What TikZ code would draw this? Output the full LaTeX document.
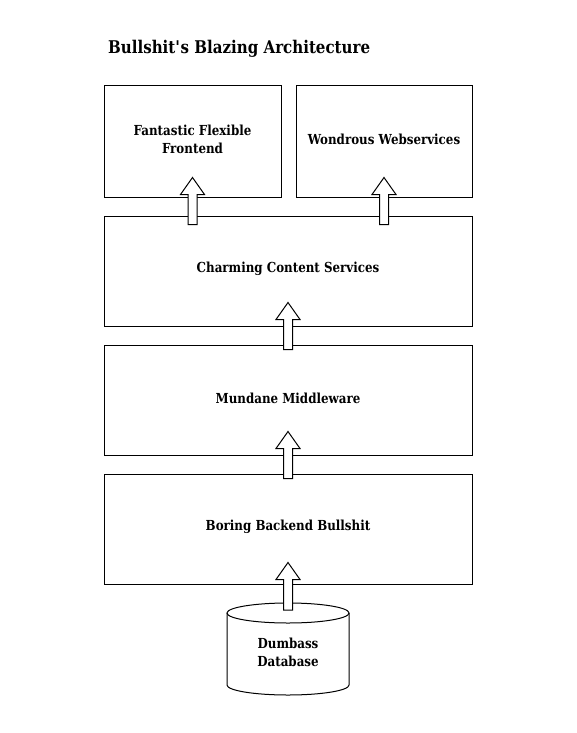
\documentclass[tikz,border=0pt]{standalone}
\usepackage{fontspec}
\setmainfont{DejaVu Serif}[FakeStretch=0.86]
\usetikzlibrary{calc}
\tikzset{
  boxfont/.style={font=\bfseries\fontsize{13.8}{18}\selectfont},
  box/.style={draw=black, line width=1pt, fill=white, inner sep=0pt},
  boxtext/.style={boxfont, align=center, inner sep=0pt, yshift=2pt},
  arrowfill/.style={draw=black, line width=1pt, fill=white, line join=miter},
}
\newcommand\blockarr[2]{%
  \path[arrowfill] let \p1=(#1), \p2=(#2) in
    (\x1-4.5pt,\y1) -- (\x1-4.5pt,\y2-17pt) -- (\x1-12pt,\y2-17pt) -- (\x2,\y2)
    -- (\x1+12pt,\y2-17pt) -- (\x1+4.5pt,\y2-17pt) -- (\x1+4.5pt,\y1) -- cycle;}
\begin{document}
\begin{tikzpicture}[x=1pt,y=-1pt]
\useasboundingbox (0,0) rectangle (576,733);
\fill[white] (0,0) rectangle (576,733);
\node[anchor=west, inner sep=0pt, font=\bfseries\fontsize{17.5}{20}\selectfont] (title) at (108,49) {Bullshit\textquotesingle s Blazing Architecture};
\node[box, minimum width=177, minimum height=111] (fe) at (192.5,141.5) {};
\node[box, minimum width=176, minimum height=111] (ws) at (384,141.5) {};
\node[box, minimum width=368, minimum height=110] (cs) at (288,271) {};
\node[box, minimum width=368, minimum height=110] (mw) at (288,400) {};
\node[box, minimum width=368, minimum height=110] (bb) at (288,529) {};
\node[boxtext] (fet) at (fe.center) {Fantastic Flexible\\Frontend};
\node[boxtext] (wst) at (ws.center) {Wondrous Webservices};
\node[boxtext] (cst) at (cs.center) {Charming Content Services};
\node[boxtext] (mwt) at (mw.center) {Mundane Middleware};
\node[boxtext] (bbt) at (bb.center) {Boring Backend Bullshit};
% database cylinder
\draw[line width=1pt, fill=white] (227,613) -- (227,685) arc[start angle=180, end angle=360, x radius=61pt, y radius=10pt] -- (349,613);
\draw[line width=1pt] (288,613) ellipse[x radius=61pt, y radius=10pt];
\node[align=center, inner sep=0pt, boxfont] (db) at (288,652) {Dumbass\\Database};
\coordinate (dbtop) at (288,610);
% arrows
\coordinate (a1s) at ([yshift=-9pt]cs.north -| fe.south);
\coordinate (a1t) at ([yshift=20pt]fe.south);
\coordinate (a2s) at ([yshift=-9pt]cs.north -| ws.south);
\coordinate (a2t) at ([yshift=20pt]ws.south);
\coordinate (a3s) at ([yshift=-5pt]mw.north);
\coordinate (a3t) at ([yshift=24pt]cs.south);
\coordinate (a4s) at ([yshift=-5pt]bb.north);
\coordinate (a4t) at ([yshift=24pt]mw.south);
\coordinate (a5t) at ([yshift=22pt]bb.south);
\blockarr{a1s}{a1t}
\blockarr{a2s}{a2t}
\blockarr{a3s}{a3t}
\blockarr{a4s}{a4t}
\blockarr{dbtop}{a5t}
\end{tikzpicture}
\end{document}
